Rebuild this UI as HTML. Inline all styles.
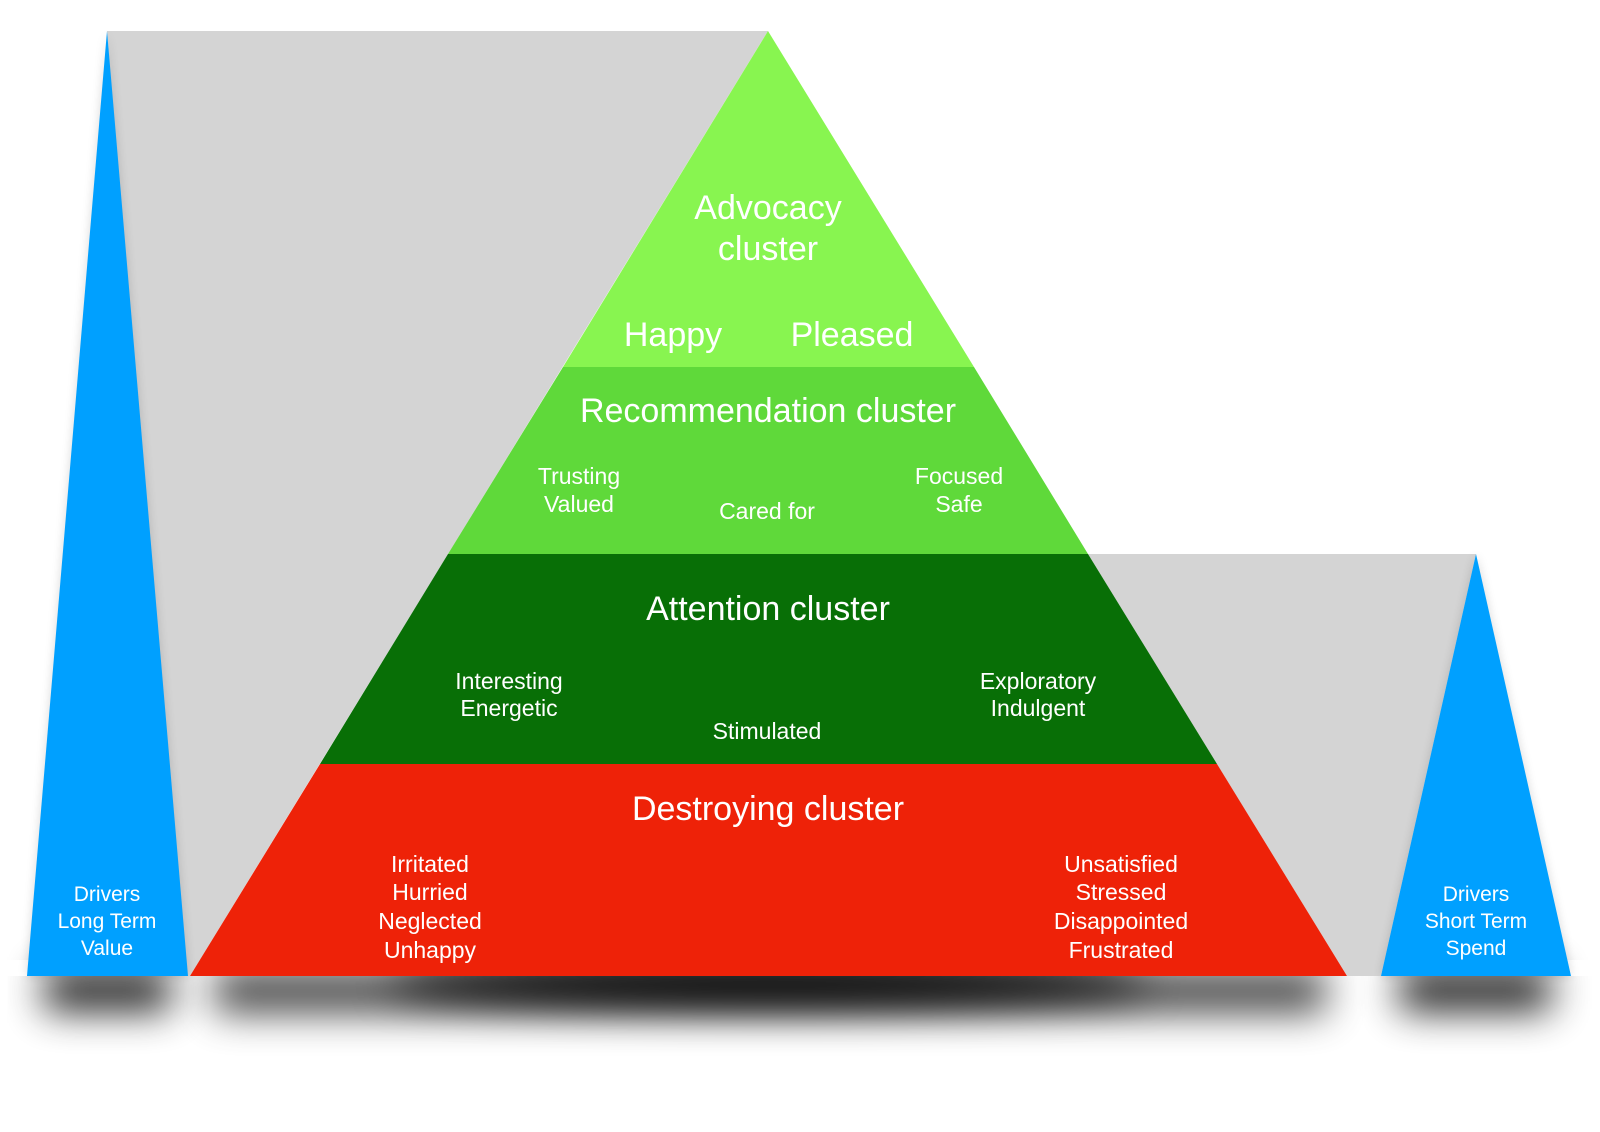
<!DOCTYPE html>
<html><head><meta charset="utf-8"><style>
html,body{margin:0;padding:0;background:#fff;}
svg{display:block;}
text{font-family:"Liberation Sans",sans-serif;fill:#fff;text-anchor:middle;}
</style></head><body>
<svg width="1600" height="1132" viewBox="0 0 1600 1132">
<defs>
<filter id="b" x="-30%" y="-200%" width="160%" height="500%"><feGaussianBlur stdDeviation="20"/></filter>
<filter id="s" x="-20%" y="-20%" width="140%" height="140%"><feGaussianBlur stdDeviation="5"/></filter>
</defs>
<!-- shadows -->
<rect x="45" y="970" width="125" height="40" fill="#000" opacity="0.9" filter="url(#b)"/>
<rect x="215" y="970" width="1110" height="42" fill="#000" opacity="0.75" filter="url(#b)"/>
<ellipse cx="768" cy="982" rx="380" ry="22" fill="#000" filter="url(#b)"/>
<rect x="1400" y="970" width="150" height="40" fill="#000" opacity="0.9" filter="url(#b)"/>
<rect x="0" y="960" width="1600" height="16" fill="#fff"/>
<!-- gray -->
<polygon points="107,31 768,31 190,976 180,976" fill="#d4d4d4"/>
<polygon points="1088,554 1476,554 1381,976 1347,976" fill="#d4d4d4"/>
<polygon points="107,31 27,976 188,976" fill="#000" opacity="0.15" filter="url(#s)"/>
<polygon points="1476,554 1381,976 1571,976" fill="#000" opacity="0.15" filter="url(#s)"/>
<!-- blue -->
<polygon points="107,31 27,976 188,976" fill="#00a0ff"/>
<polygon points="1476,554 1381,976 1571,976" fill="#00a0ff"/>
<!-- pyramid -->
<polygon points="768,31 563,367 974,367" fill="#88f550"/>
<polygon points="563,367 974,367 1088,554 448,554" fill="#5fd93a"/>
<polygon points="448,554 1088,554 1217,764 320,764" fill="#086f06"/>
<polygon points="320,764 1217,764 1347,976 190,976" fill="#ee2208"/>
<g font-size="34">
<text x="768" y="219">Advocacy</text>
<text x="768" y="260">cluster</text>
<text x="673" y="346">Happy</text>
<text x="852" y="346">Pleased</text>
<text x="768" y="422">Recommendation cluster</text>
<text x="768" y="620">Attention cluster</text>
<text x="768" y="820">Destroying cluster</text>
</g>
<g font-size="23">
<text x="579" y="484">Trusting</text>
<text x="579" y="512">Valued</text>
<text x="767" y="519">Cared for</text>
<text x="959" y="484">Focused</text>
<text x="959" y="512">Safe</text>
<text x="509" y="689">Interesting</text>
<text x="509" y="716">Energetic</text>
<text x="767" y="739">Stimulated</text>
<text x="1038" y="689">Exploratory</text>
<text x="1038" y="716">Indulgent</text>
<text x="430" y="872">Irritated</text>
<text x="430" y="900">Hurried</text>
<text x="430" y="929">Neglected</text>
<text x="430" y="958">Unhappy</text>
<text x="1121" y="872">Unsatisfied</text>
<text x="1121" y="900">Stressed</text>
<text x="1121" y="929">Disappointed</text>
<text x="1121" y="958">Frustrated</text>
</g>
<g font-size="21">
<text x="107" y="901">Drivers</text>
<text x="107" y="928">Long Term</text>
<text x="107" y="955">Value</text>
<text x="1476" y="901">Drivers</text>
<text x="1476" y="928">Short Term</text>
<text x="1476" y="955">Spend</text>
</g>
</svg>
</body></html>
